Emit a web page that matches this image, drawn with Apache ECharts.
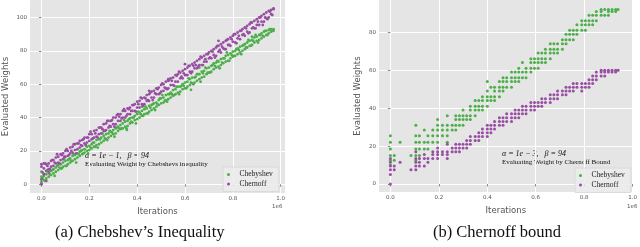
<!DOCTYPE html>
<html><head><meta charset="utf-8">
<script src="https://cdn.jsdelivr.net/npm/echarts@6/dist/echarts.min.js"></script>
<style>html,body{margin:0;padding:0;background:#fff}#c{width:640px;height:247px}</style>
</head><body><div id="c"></div>
<script>
// ---------- data ----------
const X_TICKS = [0, 0.2, 0.4, 0.6, 0.8, 1.0];
const LY_TICKS = [0, 20, 40, 60, 80, 100];
const RY_TICKS = [0, 20, 40, 60, 80];
const SERIES_NAMES = ['Chebyshev', 'Chernoff'];

// left panel (a): iterations (x1e6) and evaluated weights
const LX = [0.00,0.01,0.02,0.03,0.04,0.05,0.06,0.07,0.08,0.09,0.10,0.11,0.12,0.13,0.14,0.15,0.16,0.17,0.18,0.19,
0.20,0.21,0.22,0.23,0.24,0.25,0.26,0.27,0.28,0.29,0.30,0.31,0.32,0.33,0.34,0.35,0.36,0.37,0.38,0.39,
0.40,0.41,0.42,0.43,0.44,0.45,0.46,0.47,0.48,0.49,0.50,0.51,0.52,0.53,0.54,0.55,0.56,0.57,0.58,0.59,
0.60,0.61,0.62,0.63,0.64,0.65,0.66,0.67,0.68,0.69,0.70,0.71,0.72,0.73,0.74,0.75,0.76,0.77,0.78,0.79,
0.80,0.81,0.82,0.83,0.84,0.85,0.86,0.87,0.88,0.89,0.90,0.91,0.92,0.93,0.94,0.95,0.96,0.97];
const LX2 = [0.005,0.015,0.025,0.035,0.045,0.055,0.065,0.075,0.085,0.095,0.105,0.115,0.125,0.135,0.145,0.155,0.165,0.175,0.185,0.195,
0.205,0.215,0.225,0.235,0.245,0.255,0.265,0.275,0.285,0.295,0.305,0.315,0.325,0.335,0.345,0.355,0.365,0.375,0.385,0.395,
0.405,0.415,0.425,0.435,0.445,0.455,0.465,0.475,0.485,0.495,0.505,0.515,0.525,0.535,0.545,0.555,0.565,0.575,0.585,0.595,
0.605,0.615,0.625,0.635,0.645,0.655,0.665,0.675,0.685,0.695,0.705,0.715,0.725,0.735,0.745,0.755,0.765,0.775,0.785,0.795,
0.805,0.815,0.825,0.835,0.845,0.855,0.865,0.875,0.885,0.895,0.905,0.915,0.925,0.935,0.945,0.955,0.965];
const CHEB_A = [4.5,2.5,6,7.5,5.5,9,7.5,11.5,9.5,13,14,12,15.5,17,15,18.5,17,20.5,19,22.5,
23,21.5,25,26.5,24,28,26,30,28,31.5,32.5,30.5,34.5,35.5,33.5,37.5,35,39.5,37,41,
42,40,44,45,42.5,47,44.5,48.5,46.5,50.5,51.5,49,53.5,54,52,56.5,54,58.5,55.5,60,
61,58.5,63,64,61,66,63,67.5,64.5,69.5,70,67.5,72.5,73,70.5,75,72.5,77,74,78.5,
79.5,77,81.5,82.5,80,84,82,86,83.5,88,88.5,86.5,90.5,91.5,89.5,92.5,91.5,93];
const CHEB_B = [1.5,5,3.5,4.5,8,6.5,10,8.5,12,10.5,11,14.5,13,14,17.5,16,19.5,18,21,20,
20.5,24,22.5,23.5,27,25,29,27,30.5,29,30,33.5,32,33,36.5,34.5,38,36.5,40,38.5,
39,43,41,42,45.5,43.5,47.5,45.5,49,47.5,48.5,52,50.5,51,55,53,57,55,58.5,57,
57.5,61.5,59.5,60.5,64,62,66,64,68,66,67,71,69,70,73.5,71.5,75.5,73.5,77.5,75.5,
76.5,80,78,79,83,81,85,83,86.5,85,86,89.5,87.5,88.5,92,90.5,93,92];
const CHEB_C = [4,2,8.5,6,8.5,5,11,10,9.5,15.5,11,15,14,18,13,18,20,18.5,23.5,18.5,
22,25,22.5,22,27,30.5,27.5,26.5,32,31,28.5,34,33.5,33.5,38.5,33.5,39,37.5,40,36.5,
43.5,42,41,46.5,42.5,46,48,44.5,48,51.5,53.5,50,49.5,54,54,53.5,58.5,54,59,59,
57.5,63.5,61,60,64.5,66,61.5,66.5,70,67,67,71.5,71,74,69.5,73,75.5,79,74,77.5,
77,81,80.5,78,83.5,82,86.5,83,86,89.5,85,89.5,89,92,89.5,93,92];
const CHERN_A = [10.5,6,12,9,14,11,16,13,18,15,20,17,22,19,24,21,26,23,28,25,
30,27,32,28.5,34,30.5,36,32.5,38,34.5,40,36,42,38,44,40,45.5,42,47.5,44,
49.5,46,51.5,48,53.5,50,55.5,52,57.5,54,59.5,56,61.5,57.5,63.5,59.5,65.5,61.5,67,63.5,
69,65.5,71,67.5,73,69.5,75,71.5,77,73.5,79,75.5,81,77,83,79,85,81,87,83,
89,85,91,87,93,89,95,91,97,93.5,99,95.5,101,97.5,103,100,104.5,105];
const CHERN_B = [3,9.5,8,12.5,10.5,14.5,12.5,16.5,14.5,18.5,16.5,20,18.5,22.5,20.5,24.5,22,26.5,24.5,28,
26,30,28,32.5,30,34,32,36.5,34,38,36,40,38,42,40,44,42,46,44,48,
46,50,48,52,50,54,52,56,54,58,55.5,60,57.5,62,59.5,64,61.5,66,63.5,68,
65.5,70,67.5,72,69.5,74,71.5,76,73.5,78,75.5,80,77.5,82,79.5,84,81.5,86,83.5,88,
85.5,90,87.5,92,89.5,94,91.5,96,93.5,98,95.5,100,97.5,102,99.5,104,102,105.5];
const CHERN_C = [7,12.5,11,9,14.5,13,18,12.5,17.5,16.5,21,17.5,20,24,18.5,24.5,23.5,27,23.5,28,
31.5,27.5,30.5,28,34,33,32,38,35,38.5,34.5,41.5,40.5,39.5,45,41,45,44,47.5,43.5,
48,52,47,51.5,50.5,55,50.5,54.5,57,54.5,60.5,58,57,62.5,62,59,65,67.5,64.5,66.5,
65.5,71,66.5,71,71.5,70.5,76.5,71.5,75,78,76,79.5,76,83,80.5,82.5,81,86.5,83.5,87,
90,84.5,89,92,90,93.5,90.5,97,94,93.5,97.5,100,95.5,100,99,103.5,101.5];
const CHEB_EXTRA = [[0.0,0.5],[0.0,7.5],[0.357,32.6],[0.625,56.6],[0.66,70],[0.42,46.5],[0.88,88.5]];
const CHERN_EXTRA = [[0.0,0],[0.0,12],[0.01,12.5],[0.02,2],[0.03,7],[0.53,63],[0.6,72],[0.45,56],[0.74,86]];

// right panel (b): column positions and the weight levels found in each column
const RX = [0,0.016,0.04,0.085,0.105,0.12,0.14,0.155,0.175,0.195,0.215,0.235,0.255,0.27,0.285,0.3,0.315,0.33,0.35,0.365,
0.38,0.4,0.415,0.43,0.45,0.465,0.48,0.5,0.515,0.53,0.545,0.56,0.58,0.595,0.61,0.625,0.64,0.66,0.675,0.69,
0.71,0.725,0.74,0.755,0.77,0.79,0.805,0.82,0.835,0.85,0.87,0.885,0.9,0.915,0.93,0.94];
const R_CHEB = [[25.5,22,18.5,15,12.5,10],[15,12.5],[22],[15],[31,25.5,22,18.5,15,12.5],[25.5,22,18.5,15],[28.5,22,18.5],[25.5,22,18.5],[28.5,25.5,22],[34,31,28.5,25.5,22],
[31,28.5,25.5],[36,31,28.5,25.5,22],[31,28.5],[36,34,31,28.5],[36,34,31],[39,36,34,31],[36,34],[41,39,36,34],[44,41,39,36],[44,41,39],
[46,44,41,39],[54,49,46,44,41],[51,46,44],[51,49,46,44],[54,51,49,46],[56,54,51,49],[56,54,51],[59,56,54,51],[59,56,54],[61,59,56,54],
[64,59,56],[61,59,56],[66,64,61,59],[66,64,61],[69,66,64,61],[69,66,64],[71,69,66,64],[74,71,69,66],[74,71,69],[74,71,69],
[76,74,71],[79,76,74],[81,79,76],[81,79,76],[84,81,79],[86,84,81],[86,84,81],[89,86,84],[89,86,84],[91,89,86],
[92,91,89],[92,89],[92,91,89],[92,91],[92,91],[92]];
const R_CHERN = [[13.5,11.5,9.5,7.5,5,0],[9.5,7.5],[11.5],[7.5],[17,13.5,11.5,9.5,7.5],[13.5,11.5,9.5],[15.5,13.5,9.5],[13.5,11.5],[17,15.5,13.5],[19,17,15.5,13.5],
[17,15.5],[21,17,15.5,13.5],[19,17],[21,19,17],[21,19,17],[21,19],[23,21,19],[25,23,21],[25,23],[27,25,23],
[29,27,25],[31,29,27,25],[31,29,27],[33,31,29],[35,33,31],[35,33,31],[37,35,33],[37,35,33],[39,37,35],[39,37,35],
[41,39,37],[41,39,37],[43,41,39],[43,41,39],[43,41],[45,43,41],[45,43],[47,45,43],[47,45],[49,47,45],
[49,47],[51,49,47],[51,49],[53,51,49],[53,51],[53,51,49],[53,51],[55,53,51],[57,55,53],[59,57,55],
[60,59,57],[60,59,57],[60,59],[60,59],[60,59],[60]];

// ---------- build ----------
function zip(xs, ys) {
  const out = [];
  const n = Math.min(xs.length, ys.length);
  for (let i = 0; i < n; i++) out.push([xs[i], ys[i]]);
  return out;
}
function cols(xs, lv) {
  const out = [];
  const n = Math.min(xs.length, lv.length);
  for (let i = 0; i < n; i++) lv[i].forEach(v => out.push([xs[i], v]));
  return out;
}
const GREEN = '#4daf4a', PURPLE = '#984ea3';
const TICKC = '#555';
const tickFont = {fontSize: 5.5, color: TICKC, fontFamily: 'DejaVu Sans'};

function xAxis(gi, min, max) {
  return {
    gridIndex: gi, type: 'value', min, max,
    name: 'Iterations', nameLocation: 'middle', nameGap: 13,
    nameTextStyle: {fontSize: 8.5, color: TICKC, fontFamily: 'DejaVu Sans'},
    axisLine: {show: false},
    axisTick: {show: true, customValues: X_TICKS, length: 2.5, lineStyle: {color: TICKC, width: 0.7}},
    axisLabel: Object.assign({customValues: X_TICKS, formatter: v => v.toFixed(1), margin: 3}, tickFont),
    splitLine: {show: true, lineStyle: {color: '#ffffff', width: 1}}
  };
}
function yAxis(gi, min, max, ticks, gap) {
  return {
    gridIndex: gi, type: 'value', min, max,
    name: 'Evaluated Weights', nameLocation: 'middle', nameGap: gap,
    nameTextStyle: {fontSize: 8.5, color: TICKC, fontFamily: 'DejaVu Sans'},
    axisLine: {show: false},
    axisTick: {show: true, customValues: ticks, length: 2.5, lineStyle: {color: TICKC, width: 0.7}},
    axisLabel: Object.assign({customValues: ticks, formatter: v => String(Math.round(v)), margin: 3}, tickFont),
    splitLine: {show: true, lineStyle: {color: '#ffffff', width: 1}}
  };
}
function legend(left, top) {
  return {
    data: SERIES_NAMES, orient: 'vertical', left, top, icon: 'circle',
    itemWidth: 12, itemHeight: 3, itemGap: 0.5, padding: [3, 6, 3, 4],
    backgroundColor: 'rgba(236,236,236,0.85)', borderColor: '#d6d6d6', borderWidth: 0.8,
    textStyle: {fontSize: 7.5, lineHeight: 9, color: '#222', fontFamily: 'Liberation Serif'},
    selectedMode: false
  };
}
function txt(x, y, s, size, extra) {
  return {type: 'text', left: x, top: y, silent: true,
    style: Object.assign({text: s, fontSize: size, fontFamily: 'Liberation Serif', fill: '#111'}, extra || {})};
}

const chart = echarts.init(document.getElementById('c'), null, {renderer: 'canvas'});
chart.setOption({
  animation: false,
  grid: [
    {left: 27, right: 355, top: 0, bottom: 54, show: true, backgroundColor: '#e5e5e5', borderWidth: 0},
    {left: 379, right: 4, top: 0, bottom: 55, show: true, backgroundColor: '#e5e5e5', borderWidth: 0}
  ],
  xAxis: [xAxis(0, -0.048, 1.018), xAxis(1, -0.047, 1.0)],
  yAxis: [yAxis(0, -5.25, 110.5, LY_TICKS, 20), yAxis(1, -4.2, 97, RY_TICKS, 17)],
  legend: [legend(223, 167), legend(575, 168)],
  series: [
    {name: 'Chebyshev', type: 'scatter', xAxisIndex: 0, yAxisIndex: 0, symbolSize: 2.8, itemStyle: {color: GREEN, opacity: 1}, silent: true,
      data: zip(LX, CHEB_A).concat(zip(LX, CHEB_B), zip(LX2, CHEB_C), CHEB_EXTRA)},
    {name: 'Chernoff', type: 'scatter', xAxisIndex: 0, yAxisIndex: 0, symbolSize: 2.8, itemStyle: {color: PURPLE, opacity: 1}, silent: true,
      data: zip(LX, CHERN_A).concat(zip(LX, CHERN_B), zip(LX2, CHERN_C), CHERN_EXTRA)},
    {name: 'Chebyshev', type: 'scatter', xAxisIndex: 1, yAxisIndex: 1, symbolSize: 3, itemStyle: {color: GREEN, opacity: 1}, data: cols(RX, R_CHEB), silent: true},
    {name: 'Chernoff', type: 'scatter', xAxisIndex: 1, yAxisIndex: 1, symbolSize: 3, itemStyle: {color: PURPLE, opacity: 1}, data: cols(RX, R_CHERN), silent: true}
  ],
  graphic: [
    txt(272, 204, '1e6', 5.5, {fontFamily: 'DejaVu Sans', fill: TICKC}),
    txt(627, 204, '1e6', 5.5, {fontFamily: 'DejaVu Sans', fill: TICKC}),
    txt(85, 152, 'α = 1e − 1,   β = 94', 8, {fontStyle: 'italic'}),
    txt(85, 161, 'Evaluating Weight by Chebshevs inequality', 7),
    txt(502, 150, 'α = 1e − 3,   β = 94', 8, {fontStyle: 'italic'}),
    txt(502, 159, 'Evaluating Weight by Chernoff Bound', 7),
    txt(55, 224, '(a) Chebshev’s Inequality', 16.5),
    txt(433, 224, '(b) Chernoff bound', 16.5)
  ]
});
</script></body></html>
